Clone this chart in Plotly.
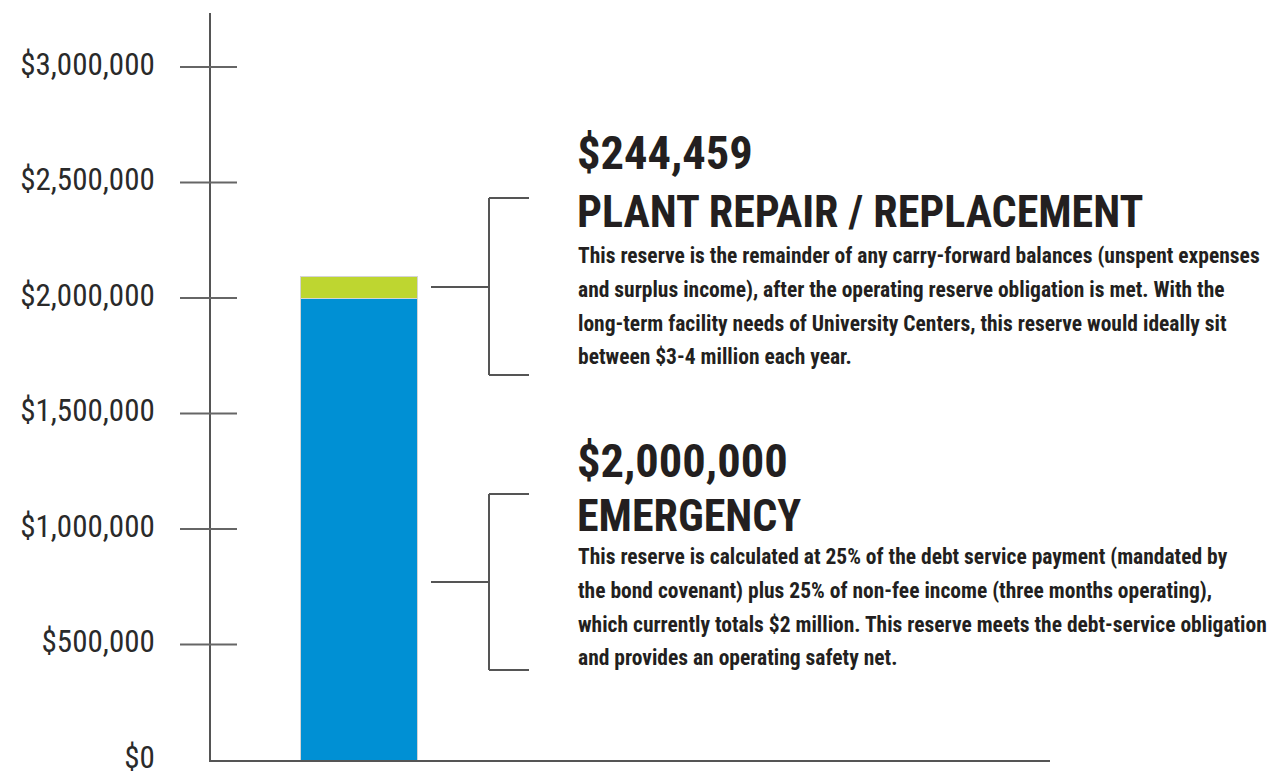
import plotly.graph_objects as go

# ---- data ----
categories = ["Reserves"]
segment_names = ["Emergency", "Plant repair / replacement"]
# segment heights as drawn in the picture (the top segment is not drawn to scale there)
drawn_heights = [2000000, 95000]
labelled_amounts = [2000000, 244459]
segment_colors = ["#0090d4", "#bed630"]
tick_values = [0, 500000, 1000000, 1500000, 2000000, 2500000, 3000000]
tick_labels = ["$0", "$500,000", "$1,000,000", "$1,500,000", "$2,000,000", "$2,500,000", "$3,000,000"]

titles = ["PLANT REPAIR / REPLACEMENT", "EMERGENCY"]
bodies = [
    ["This reserve is the remainder of any carry-forward balances (unspent expenses",
     "and surplus income), after the operating reserve obligation is met. With the",
     "long-term facility needs of University Centers, this reserve would ideally sit",
     "between $3-4 million each year."],
    ["This reserve is calculated at 25% of the debt service payment (mandated by",
     "the bond covenant) plus 25% of non-fee income (three months operating),",
     "which currently totals $2 million. This reserve meets the debt-service obligation",
     "and provides an operating safety net."],
]

# ---- layout geometry (screen pixels; page body adds an 8px offset) ----
OFF = 8
W, H = 1275 - OFF, 773 - OFF
SL, SR, ST, SB = 211, 1050, 13, 760     # plot area on screen
L, R, T, B = SL - OFF, SR - OFF, ST - OFF, SB - OFF
PW, PH = R - L, B - T
PX_PER_MILLION = 231.0

def px(x):
    return (x - OFF - L) / PW

def py(y):
    return (B - (y - OFF)) / PH

COND = "Roboto Condensed, DejaVu Sans Condensed, sans-serif"
TEXT = "#231f20"

fig = go.Figure()
for name, h, c in zip(segment_names, drawn_heights, segment_colors):
    fig.add_trace(go.Bar(x=categories, y=[h], name=name, marker_color=c,
                         marker_line=dict(color="#d4d4d4", width=1), width=1))

unit = 117.0           # bar width in pixels = 1 category unit
center_px = 358.5
x0 = -(center_px - SL) / unit
x1 = x0 + PW / unit
ytop = PH / PX_PER_MILLION * 1e6

fig.update_layout(
    width=W, height=H, barmode="stack", showlegend=False,
    margin=dict(l=L, r=W - R, t=T, b=H - B, autoexpand=False),
    plot_bgcolor="white", paper_bgcolor="white",
    xaxis=dict(type="category", range=[x0, x1], showticklabels=False, ticks="",
               showgrid=False, zeroline=False, showline=True, linecolor="#555555", linewidth=2,
               automargin=False),
    yaxis=dict(range=[0, ytop], tickvals=tick_values, ticktext=tick_labels, ticks="",
               ticklabelstandoff=48, ticklabeloverflow="allow", ticklabelshift=-3, automargin=False,
               showgrid=False, zeroline=False, showline=True,
               linecolor="#555555", linewidth=2,
               tickfont=dict(family=COND, size=31, color="#2a2a2a")),
)

for v in tick_values[1:]:
    fig.add_shape(type="line", xref="paper", yref="y", x0=px(180), x1=px(237), y0=v, y1=v,
                  line=dict(color="#666666", width=2))

LINE = dict(color="#555555", width=2)
for top, bot, mid in [(198, 375, 287), (494, 670, 582)]:
    fig.add_shape(type="line", xref="paper", yref="paper", x0=px(489), x1=px(489), y0=py(top), y1=py(bot), line=LINE)
    fig.add_shape(type="line", xref="paper", yref="paper", x0=px(489), x1=px(529), y0=py(top), y1=py(top), line=LINE)
    fig.add_shape(type="line", xref="paper", yref="paper", x0=px(489), x1=px(529), y0=py(bot), y1=py(bot), line=LINE)
    fig.add_shape(type="line", xref="paper", yref="paper", x0=px(431), x1=px(489), y0=py(mid), y1=py(mid), line=LINE)

amounts_text = ["${:,}".format(labelled_amounts[1]), "${:,}".format(labelled_amounts[0])]
rows = [(153, 212, [255, 289, 323, 356]), (461, 516, [556, 590, 624, 657])]
for amt, title, body, (ya, yt, yb) in zip(amounts_text, titles, bodies, rows):
    fig.add_annotation(text="<b>%s</b>" % amt, xref="paper", yref="paper", x=px(575), y=py(ya),
                       xanchor="left", yanchor="middle", showarrow=False,
                       font=dict(family=COND, size=46.5, color=TEXT))
    fig.add_annotation(text="<b>%s</b>" % title, xref="paper", yref="paper", x=px(575), y=py(yt),
                       xanchor="left", yanchor="middle", showarrow=False,
                       font=dict(family=COND, size=44, color=TEXT))
    for line, yy in zip(body, yb):
        fig.add_annotation(text="<b>%s</b>" % line, xref="paper", yref="paper", x=px(576), y=py(yy),
                           xanchor="left", yanchor="middle", showarrow=False,
                           font=dict(family=COND, size=21.5, color=TEXT))

fig.write_html("out.html")
